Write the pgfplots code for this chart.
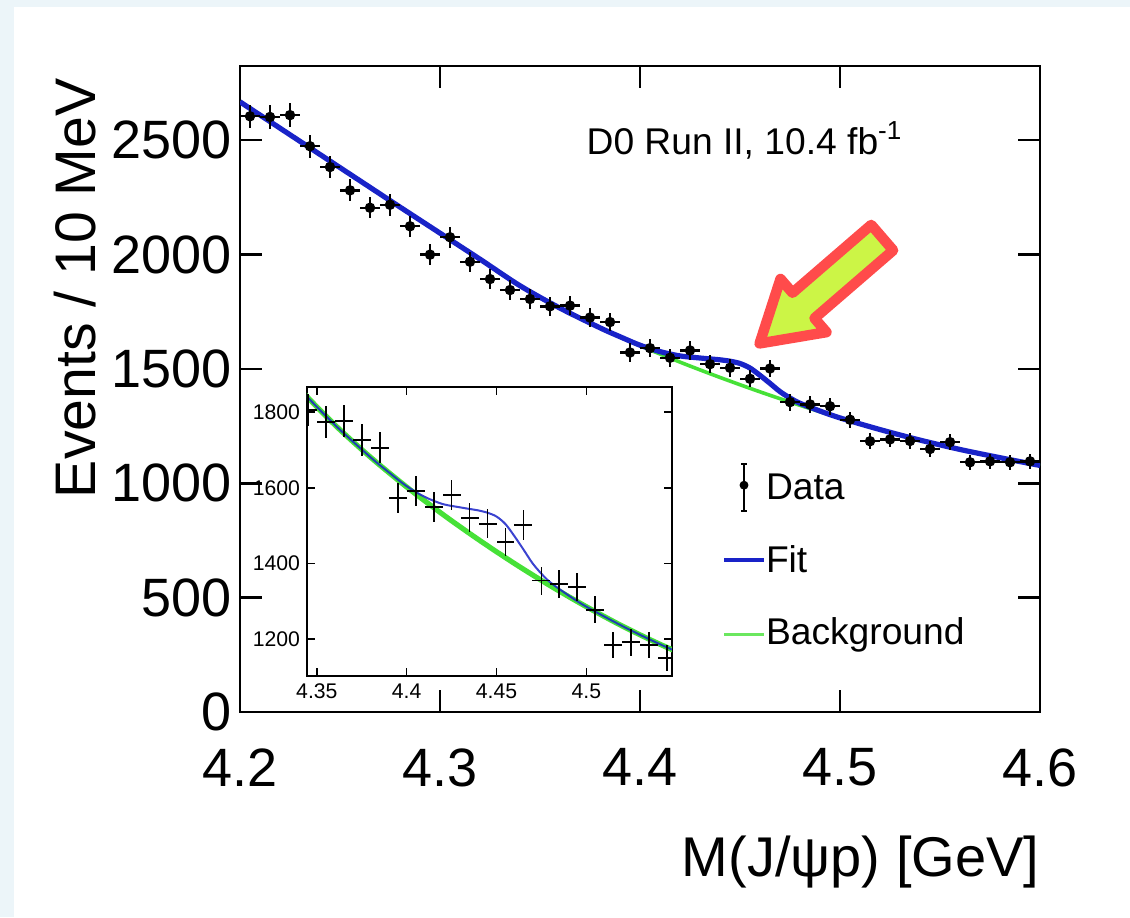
\documentclass[border=0pt]{standalone}
\usepackage{pgfplots}
\pgfplotsset{compat=1.18}
\usepackage{pgfplotstable}
\usepackage{fontspec}
\setmainfont{Liberation Sans}
\definecolor{fitblue}{RGB}{25,35,200}
\definecolor{bggreen}{RGB}{70,225,55}
\definecolor{arrred}{RGB}{255,75,75}
\definecolor{arrlime}{RGB}{204,245,70}
\definecolor{edgeblue}{RGB}{236,245,249}

\pgfplotstableread{
x y e
4.205 2605 51
4.215 2602 51
4.225 2610 51
4.235 2474 50
4.245 2383 49
4.255 2281 48
4.265 2205 47
4.275 2218 47
4.285 2124 46
4.295 2000 45
4.305 2076 46
4.315 1969 44
4.325 1893 44
4.335 1845 43
4.345 1806 42
4.355 1774 42
4.365 1777 42
4.375 1725 42
4.385 1705 41
4.395 1572 40
4.405 1591 40
4.415 1549 39
4.425 1581 40
4.435 1521 39
4.445 1505 39
4.455 1457 38
4.465 1502 39
4.475 1355 37
4.485 1345 37
4.495 1337 37
4.505 1278 36
4.515 1184 34
4.525 1192 35
4.535 1185 34
4.545 1150 34
4.555 1180 34
4.565 1092 33
4.575 1096 33
4.585 1092 33
4.595 1096 33
}\datatab

\pgfplotstableread{
x y
4.20 2668
4.22 2553
4.24 2438
4.26 2323
4.28 2208
4.30 2094
4.32 1980
4.34 1864
4.36 1766
4.38 1680
4.40 1602
4.42 1530
4.44 1463
4.46 1400
4.48 1341
4.50 1286
4.52 1235
4.54 1189
4.56 1148
4.58 1112
4.60 1078
}\bgtab

\pgfplotstableread{
x y
4.20 2668
4.22 2553
4.24 2438
4.26 2323
4.28 2208
4.30 2094
4.32 1980
4.34 1864
4.36 1766
4.38 1680
4.39 1641
4.40 1604
4.41 1576
4.42 1557
4.43 1548
4.435 1544
4.44 1540
4.445 1534
4.45 1524
4.455 1504
4.46 1472
4.465 1437
4.47 1401
4.475 1373
4.48 1350
4.49 1316
4.50 1286
4.52 1235
4.54 1189
4.56 1148
4.58 1112
4.60 1078
}\fittab

\pgfplotsset{
  datalegend/.style={legend image code/.code={
    \path[draw=none, fill=none] (0pt,-2pt) rectangle (10pt,2pt);
    \draw[overlay, black, line width=0.45pt] (5pt,-5.2pt) -- (5pt,6.4pt)
      (4.3pt,-5.2pt) -- (5.7pt,-5.2pt) (4.3pt,6.4pt) -- (5.7pt,6.4pt);
    \fill[overlay, black] (5pt,1.2pt) circle (0.9pt);
  }},
  fitlegend/.style={legend image code/.code={
    \draw[fitblue, line width=1pt] (0pt,0.6pt) -- (10pt,0.6pt);
  }},
  bglegend/.style={legend image code/.code={
    \draw[bggreen!80!white, line width=0.8pt] (0pt,0pt) -- (10pt,0pt);
  }},
}

\begin{document}
\begin{tikzpicture}
\useasboundingbox (0pt,0pt) rectangle (282.5pt,229.25pt);
\fill[white] (0pt,0pt) rectangle (282.5pt,229.25pt);
\fill[edgeblue] (0pt,0pt) rectangle (3.5pt,229.25pt);
\fill[edgeblue] (0pt,227.5pt) rectangle (282.5pt,229.25pt);

\begin{axis}[
  name=main,
  at={(60pt,51.25pt)}, anchor=south west,
  scale only axis, width=200pt, height=161.5pt,
  xmin=4.2, xmax=4.6, ymin=0, ymax=2825,
  xtick={4.2,4.3,4.4,4.5,4.6},
  ytick={0,500,1000,1500,2000,2500},
  /pgf/number format/assume math mode=true,
  /pgf/number format/1000 sep={},
  tick label style={font=\fontsize{13.5}{15}\selectfont},
  xticklabel style={anchor=north, inner sep=0pt, yshift=-9pt},
  yticklabel style={anchor=east, inner sep=0pt, xshift=-2pt},
  axis line style={line width=0.6pt},
  every tick/.style={black, line width=0.6pt},
  major tick length=5.5pt,
  tick align=inside,
  xlabel={M(J/ψp) [GeV]},
  ylabel={Events / 10 MeV},
  every axis x label/.style={at={(axis description cs:1,-0.254)}, anchor=base east, inner sep=0pt, font=\fontsize{14}{16}\selectfont},
  every axis y label/.style={at={(axis description cs:-0.206,0.656)}, rotate=90, anchor=center, font=\fontsize{14.3}{16}\selectfont},
  legend style={at={(axis description cs:0.6025,0.3715)}, anchor=north west,
    draw=none, fill=none, inner sep=0pt, outer sep=0pt,
    font=\fontsize{9.3}{11}\selectfont, row sep=9.1pt,
    nodes={inner sep=0pt, text height=7pt, text depth=2pt},
    /tikz/every even column/.append style={column sep=2.4pt}},
  legend cell align=left,
]
\addplot[bggreen, line width=0.9pt, smooth, forget plot] table[x=x,y=y] {\bgtab};
\addplot[fitblue, line width=1.3pt, smooth, forget plot] table[x=x,y=y] {\fittab};
\addplot[black, only marks, mark=*, mark size=1.1pt, forget plot,
  error bars/.cd, x dir=both, x fixed=0.005, y dir=both, y explicit,
  error mark=none, error bar style={line width=0.6pt, black}]
  table[x=x, y=y, y error=e] {\datatab};
\addlegendimage{datalegend}
\addlegendentry{Data}
\addlegendimage{fitlegend}
\addlegendentry{Fit}
\addlegendimage{bglegend}
\addlegendentry{Background}
\node[font=\fontsize{9.3}{11}\selectfont, anchor=center] at (axis cs:4.4525,2500) {D0 Run II, 10.4 fb\textsuperscript{-1}};
\end{axis}

\begin{axis}[
  name=inset,
  at={(76.7pt,60.25pt)}, anchor=south west,
  scale only axis, width=91.25pt, height=72.25pt,
  xmin=4.3444, xmax=4.5476, ymin=1103, ymax=1866,
  xtick={4.35,4.4,4.45,4.5},
  ytick={1200,1400,1600,1800},
  axis background/.style={fill=white},
  /pgf/number format/assume math mode=true,
  /pgf/number format/1000 sep={},
  tick label style={font=\fontsize{5.3}{6}\selectfont},
  xticklabel style={anchor=north, inner sep=0pt, yshift=-1.8pt},
  yticklabel style={anchor=east, inner sep=0pt, xshift=-1.5pt},
  axis line style={line width=0.4pt},
  every tick/.style={black, line width=0.4pt},
  major tick length=2pt,
  tick align=inside,
]
\addplot[bggreen, line width=1.3pt, smooth] table[x=x,y=y] {\bgtab};
\addplot[fitblue, line width=0.5pt, smooth, opacity=0.85] table[x=x,y=y] {\fittab};
\addplot[draw=none, mark=none,
  error bars/.cd, x dir=both, x fixed=0.005, y dir=both, y explicit,
  error mark=none, error bar style={line width=0.45pt, draw=black}]
  table[x=x, y=y, y error=e] {\datatab};
\end{axis}

\begin{scope}[shift={(188pt,141.75pt)}, rotate=40.8]
\filldraw[draw=arrred, fill=arrlime, line width=2.6pt, line join=round]
  (2.5pt,0pt) -- (17pt,8.8pt) -- (17pt,4.2pt) -- (43pt,4.2pt) -- (43pt,-4.2pt)
  -- (17pt,-4.2pt) -- (17pt,-8.8pt) -- cycle;
\end{scope}
\end{tikzpicture}
\end{document}
